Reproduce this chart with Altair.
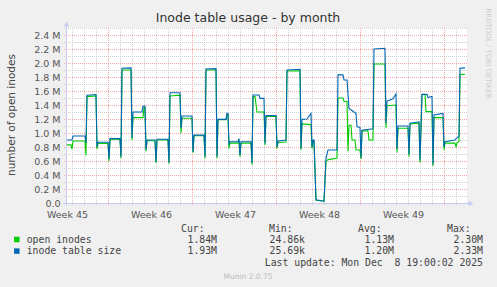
import altair as alt
import pandas as pd

# ---- series data (x = 2-hour sample index from the left edge, values in millions) ----
TABLE_X = [0, 5, 6, 18, 19, 20, 29, 30, 31, 41, 42, 43, 53, 54, 55, 64, 65, 66, 75, 76, 78, 79,
           80, 88, 89, 90, 101, 102, 103, 113, 114, 115, 125, 126, 127, 137, 138, 139, 149, 150,
           151, 159, 160, 161, 162, 163, 171, 172, 173, 174, 184, 185, 186, 192, 193, 197, 198,
           199, 209, 210, 211, 219, 220, 233, 234, 235, 240, 244, 245, 246, 247, 249, 257, 259,
           261, 270, 271, 276, 277, 280, 282, 287, 289, 290, 293, 294, 295, 306, 307, 318, 319,
           320, 326, 329, 330, 331, 341, 342, 343, 352, 353, 355, 360, 361, 364, 365, 366, 367,
           376, 377, 378, 388, 389, 392, 393, 398]
TABLE_SIZE = [0.90, 0.90, 0.957, 0.957, 0.86, 1.54, 1.55, 0.80, 0.867, 0.867, 0.63, 0.92, 0.92,
              0.66, 1.924, 1.93, 0.93, 1.30, 1.30, 1.38, 1.38, 0.76, 0.90, 0.90, 0.59, 0.91, 0.91,
              0.58, 1.576, 1.576, 1.07, 1.243, 1.243, 0.73, 0.97, 0.97, 0.66, 1.914, 1.92, 0.66,
              1.195, 1.195, 1.28, 1.28, 0.83, 0.876, 0.876, 0.92, 0.686, 0.876, 0.876, 0.567,
              1.543, 1.543, 1.495, 1.495, 0.85, 1.248, 1.248, 0.80, 0.886, 0.90, 1.90, 1.91, 0.78,
              1.195, 1.20, 1.28, 0.80, 0.90, 0.90, 0.045, 0.026, 0.64, 0.757, 0.757, 1.83, 1.83,
              1.757, 1.757, 1.35, 1.30, 1.28, 1.09, 1.08, 0.65, 1.04, 1.06, 2.20, 2.21, 1.14,
              1.457, 1.49, 1.56, 0.767, 1.10, 1.10, 0.695, 1.14, 1.16, 0.61, 1.552, 1.552, 1.505,
              1.52, 1.52, 0.553, 1.257, 1.28, 0.80, 0.876, 0.90, 0.92, 0.95, 1.924, 1.93]

OPEN_X = [0, 4, 5, 6, 18, 19, 20, 29, 30, 31, 41, 42, 43, 53, 54, 55, 64, 65, 66, 76, 77, 78, 79,
          80, 88, 89, 90, 101, 102, 103, 113, 114, 115, 125, 126, 127, 137, 138, 139, 149, 150,
          151, 159, 160, 161, 162, 163, 171, 172, 173, 174, 184, 185, 186, 188, 190, 197, 198,
          199, 209, 210, 211, 219, 220, 233, 234, 235, 244, 245, 246, 247, 249, 257, 259, 261,
          270, 271, 276, 277, 280, 281, 282, 284, 285, 288, 289, 293, 294, 295, 301, 302, 306,
          307, 318, 319, 320, 329, 330, 331, 341, 342, 343, 352, 353, 355, 358, 359, 365, 366,
          367, 376, 377, 378, 388, 389, 390, 392, 393, 398]
OPEN_INODES = [0.83, 0.83, 0.77, 0.886, 0.886, 0.68, 1.52, 1.53, 0.77, 0.85, 0.85, 0.60, 0.91,
               0.91, 0.64, 1.90, 1.90, 0.90, 1.22, 1.22, 1.36, 1.36, 0.74, 0.89, 0.89, 0.57, 0.90,
               0.90, 0.56, 1.53, 1.54, 1.00, 1.21, 1.21, 0.72, 0.96, 0.96, 0.64, 1.90, 1.90, 0.64,
               1.19, 1.19, 1.26, 1.26, 0.78, 0.855, 0.855, 0.88, 0.66, 0.855, 0.855, 0.55, 1.52,
               1.52, 1.30, 1.30, 0.83, 1.235, 1.235, 0.78, 0.864, 0.87, 1.886, 1.89, 0.76, 1.13,
               1.12, 0.78, 0.88, 0.88, 0.04, 0.025, 0.59, 0.62, 0.64, 1.50, 1.50, 1.45, 1.45,
               0.74, 1.11, 1.11, 0.90, 0.90, 0.757, 0.757, 0.63, 1.03, 1.03, 0.90, 0.90, 1.986,
               1.986, 1.07, 1.39, 1.40, 0.72, 1.067, 1.067, 0.66, 1.13, 1.14, 0.58, 1.55, 1.55,
               1.305, 1.305, 0.53, 1.22, 1.22, 0.76, 0.855, 0.855, 0.80, 0.86, 0.88, 1.838, 1.84]

# ---- axis / legend text ----
TITLE = "Inode table usage - by month"
Y_TITLE = "number of open inodes"
WEEK_LABEL_POS = [0, 84, 168, 252, 336]
FIRST_WEEK = 45
Y_LABEL_VALUES = [0, 0.2, 0.4, 0.6, 0.8, 1.0, 1.2, 1.4, 1.6, 1.8, 2.0, 2.2, 2.4]
SERIES_NAMES = ["open inodes", "inode table size"]
SERIES_COLORS = ["#00cc00", "#0066b3"]
CUR = ["1.84M", "1.93M"]
MIN = ["24.86k", "25.69k"]
AVG = ["1.13M", "1.20M"]
MAX = ["2.30M", "2.33M"]
HEADERS = ["Cur:", "Min:", "Avg:", "Max:"]
LAST_UPDATE = "Last update: Mon Dec \u00a08 19:00:02 2025"
FOOTER = "Munin 2.0.75"
WATERMARK = "RRDTOOL / TOBI OETIKER"

# grid positions
MINOR_X = [p for p in range(5, 400, 12) if (p - 41) % 84 != 0]
MAJOR_X = [41, 125, 209, 293, 377]
MINOR_Y = [0.1, 0.3, 0.5, 0.7, 0.9, 1.1, 1.3, 1.5, 1.7, 1.9, 2.1, 2.3, 2.5]
MAJOR_Y = [0.2, 0.4, 0.6, 0.8, 1.0, 1.2, 1.4, 1.6, 1.8, 2.0, 2.2, 2.4]

W, H = 400, 175
xs = alt.Scale(domain=[0, 400], nice=False, zero=False)
ys = alt.Scale(domain=[0, 2.5], nice=False, zero=True)

SANS = "DejaVu Sans"
MONO = "DejaVu Sans Mono"
LBL = "#555555"
AXIS_COL = "#c6cbf2"
GRID_MINOR = "#cfcfcf"
GRID_MAJOR = "#f2a6a6"

x_axis = alt.Axis(values=WEEK_LABEL_POS, labelExpr=f"'Week ' + ({FIRST_WEEK} + round(datum.value/84))",
                  ticks=False, domain=False, grid=False, labelPadding=6, labelFontSize=9.5,
                  labelFont=SANS, labelColor=LBL, title=None, labelFlush=False, labelOverlap=False)
y_axis = alt.Axis(values=Y_LABEL_VALUES,
                  labelExpr="datum.value == 0 ? '0.0' : format(datum.value, '.1f') + ' M'",
                  ticks=False, domain=False, grid=False, labelPadding=7, labelFontSize=9.5,
                  labelFont=SANS, labelColor=LBL, title=None, labelOverlap=False)

one = alt.Data(values=[{}])


def vrules(pos, color):
    return alt.Chart(pd.DataFrame({"p": pos})).mark_rule(
        color=color, strokeDash=[1, 1], strokeWidth=1, xOffset=0.5
    ).encode(x=alt.X("p:Q", scale=xs, axis=x_axis), y=alt.value(0), y2=alt.value(H + 3))


def hrules(pos, color):
    return alt.Chart(pd.DataFrame({"v": pos})).mark_rule(
        color=color, strokeDash=[1, 1], strokeWidth=1, yOffset=0.5
    ).encode(y=alt.Y("v:Q", scale=ys, axis=y_axis), x=alt.value(-3), x2=alt.value(W))


def txt(t, x, y, **kw):
    return alt.Chart(one).mark_text(text=t, **kw).encode(x=alt.value(x), y=alt.value(y))


open_df = pd.DataFrame({"x": OPEN_X, "v": OPEN_INODES})
table_df = pd.DataFrame({"x": TABLE_X, "v": TABLE_SIZE})

green = alt.Chart(open_df).mark_line(color=SERIES_COLORS[0], strokeWidth=1.1).encode(
    x=alt.X("x:Q", scale=xs, axis=x_axis), y=alt.Y("v:Q", scale=ys, axis=y_axis))
blue = alt.Chart(table_df).mark_line(color=SERIES_COLORS[1], strokeWidth=1.1).encode(
    x=alt.X("x:Q", scale=xs, axis=x_axis), y=alt.Y("v:Q", scale=ys, axis=y_axis))

axis_x = alt.Chart(one).mark_rule(color=AXIS_COL, strokeWidth=1).encode(
    x=alt.value(-4), x2=alt.value(W + 3), y=alt.value(H + 0.5))
axis_y = alt.Chart(one).mark_rule(color=AXIS_COL, strokeWidth=1).encode(
    x=alt.value(-0.5), y=alt.value(H + 3), y2=alt.value(-3))
arrow_r = alt.Chart(one).mark_point(shape="triangle-right", filled=True, color=AXIS_COL,
                                    size=28, opacity=1).encode(x=alt.value(W + 4), y=alt.value(H + 0.5))
arrow_u = alt.Chart(one).mark_point(shape="triangle-up", filled=True, color=AXIS_COL,
                                    size=28, opacity=1).encode(x=alt.value(-0.5), y=alt.value(-4))

layers = [
    vrules(MINOR_X, GRID_MINOR), hrules(MINOR_Y, GRID_MINOR),
    vrules(MAJOR_X, GRID_MAJOR), hrules(MAJOR_Y, GRID_MAJOR),
    axis_x, axis_y, arrow_r, arrow_u,
    green, blue,
    txt(TITLE, 181, -6, font=SANS, fontSize=12.5, color="#333333", align="center", baseline="alphabetic"),
    txt(Y_TITLE, -55, 87, font=SANS, fontSize=10.5, color="#444444", align="center",
        baseline="middle", angle=270),
    txt(WATERMARK, 420.5, 25.5, font=SANS, fontSize=7, color="#cccccc", align="center",
        baseline="middle", angle=90),
    txt(FOOTER, 181, 251, font=SANS, fontSize=7.5, color="#bbbbbb", align="center",
        baseline="alphabetic"),
]

HEADER_X = [114, 202, 291, 380]
for h, hx in zip(HEADERS, HEADER_X):
    layers.append(txt(h, hx, 203.7, font=MONO, fontSize=9.8, color="#444444", align="left",
                      baseline="alphabetic"))

ROW_Y = [214.8, 226.4]
COL_RIGHT = [150, 238, 327, 416]
for i in range(2):
    layers.append(alt.Chart(one).mark_square(color=SERIES_COLORS[i], size=30, opacity=1).encode(
        x=alt.value(-50.2), y=alt.value(ROW_Y[i] - 3.3)))
    layers.append(txt(SERIES_NAMES[i], -40.3, ROW_Y[i], font=MONO, fontSize=9.8, color="#444444",
                      align="left", baseline="alphabetic"))
    for vals, cx in zip([CUR, MIN, AVG, MAX], COL_RIGHT):
        layers.append(txt(vals[i], cx, ROW_Y[i], font=MONO, fontSize=9.8, color="#444444",
                          align="right", baseline="alphabetic"))

layers.append(txt(LAST_UPDATE, 416, 238, font=MONO, fontSize=9.8, color="#444444", align="right",
                  baseline="alphabetic"))

chart = alt.layer(*layers).properties(
    width=W, height=H, autosize="none",
    padding={"left": 67, "top": 28, "right": 30, "bottom": 84},
    background="#f0f0f0",
).configure_view(fill="white", strokeWidth=0)

chart.save("out.html", embed_options={"renderer": "svg", "actions": False})
